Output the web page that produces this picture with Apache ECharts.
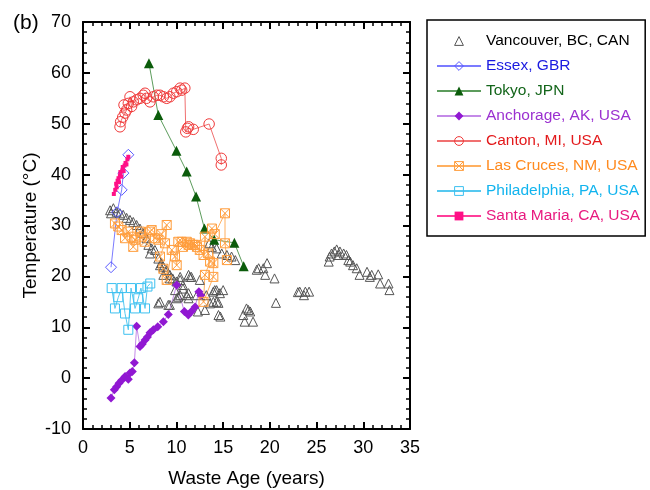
<!DOCTYPE html>
<html><head><meta charset="utf-8">
<script src="https://cdn.jsdelivr.net/npm/echarts@6/dist/echarts.min.js"></script>
<style>html,body{margin:0;padding:0;background:#fff}#c{width:650px;height:490px}</style>
</head><body><div id="c"></div>
<script>
// ---- data: [waste age (years), temperature (°C)] ----
const vancouver = [[2.9,33.0],[3.0,32.4],[3.25,33.4],[3.6,32.7],[3.96,32.4],[4.3,32.1],[4.67,31.5],[5.03,31.1],[5.38,30.7],[5.74,30.1],[6.1,29.4],[6.45,28.5],[6.8,27.5],[7.0,26.2],[7.35,25.5],[7.7,25.2],[7.17,24.5],[8.06,23.5],[8.4,22.6],[8.6,21.9],[8.96,21.2],[9.3,20.3],[9.6,19.6],[10.0,19.0],[10.4,19.3],[10.7,18.3],[11.3,20.3],[11.6,19.9],[11.45,19.9],[8.6,20.3],[8.24,22.2],[9.3,19.6],[10.4,19.9],[12.5,19.3],
  [8.24,15.0],[8.06,14.7],[9.3,14.4],[9.13,14.4],[10.2,16.0],[10.03,15.7],[11.3,16.7],[11.1,16.3],[12.2,16.3],[13.2,16.3],[13.95,15.0],[14.5,12.4],[12.3,13.1],[13.05,13.4],[13.6,14.7],[13.95,17.0],[14.3,17.3],[14.66,16.7],[14.5,14.8],[9.85,17.3],[10.4,16.3],[10.7,17.6],[11.3,15.7],[14.7,12.1],[14.1,17.3],[15.0,17.3],[14.3,15.0],
  [14.3,25.5],[14.85,24.5],[15.4,24.2],[15.9,23.9],[16.3,23.2],[13.5,26.5],[13.8,25.8],
  [17.15,12.4],[17.5,13.7],[17.9,13.1],[18.2,11.1],[17.3,11.1],[17.7,13.4],
  [18.6,21.3],[18.8,21.6],[19.3,21.6],[19.5,20.3],[19.7,22.6],[20.5,19.6],[20.65,14.8],[23.0,16.9],
  [23.2,17.0],[23.65,16.3],[23.8,17.0],[24.2,17.0],
  [26.3,22.9],[26.4,23.9],[26.6,24.5],[26.9,24.9],[27.15,25.3],[27.3,24.2],[27.5,24.9],[27.9,24.5],[28.2,24.2],[28.4,23.2],[28.6,22.9],[28.9,22.2],[29.3,21.6],[29.6,20.3],[30.4,20.9],[30.7,19.9],[30.9,20.3],[31.6,20.4],[31.8,18.6],[32.7,18.6],[32.8,17.3]];
const essex = [[3.0,21.8],[3.65,32.6],[4.14,37.0],[4.32,40.3],[4.85,43.9]];
const tokyo = [[7.06,61.9],[8.06,51.7],[10.0,44.7],[11.1,40.6],[12.1,35.7],[13.0,29.4],[14.05,27.2],[16.2,26.6],[17.2,22.0]];
const anchorage = [[3.0,-3.9],[3.35,-2.3],[3.6,-1.7],[3.85,-1.0],[4.14,-0.4],[4.5,0.3],[4.85,-0.2],[5.03,1.0],[5.28,1.3],[5.5,3.0],[5.74,10.2],[6.1,6.2],[6.35,6.7],[6.64,7.5],[6.9,8.1],[7.17,8.9],[7.53,9.5],[8.0,10.1],[8.6,11.1],[9.13,12.5],[10.03,18.3],[10.85,13.1],[11.27,12.4],[11.6,13.1],[12.0,14.0],[12.4,17.0],[12.6,16.3]];
const canton = [[3.96,49.4],[4.03,50.4],[4.25,51.3],[4.5,52.1],[4.67,52.7],[4.39,53.7],[4.85,54.0],[5.03,55.3],[5.2,53.4],[5.38,54.3],[5.74,54.7],[6.1,55.0],[6.45,55.6],[6.64,56.0],[6.8,55.0],[7.17,54.3],[7.53,55.3],[7.9,55.6],[8.24,55.6],[8.6,55.3],[8.96,55.0],[9.3,55.3],[9.67,56.0],[10.03,56.3],[10.4,57.0],[10.56,56.6],[10.9,57.0],[11.0,48.4],[11.17,49.1],[11.3,49.4],[11.8,48.9],[13.5,49.95],[14.8,43.2],[14.8,41.9]];
const lasCruces = [[3.42,30.4],[3.78,29.8],[4.14,29.1],[4.5,27.5],[4.85,28.8],[5.2,27.8],[5.38,25.8],[5.6,27.2],[6.1,28.8],[6.28,27.8],[6.6,26.8],[7.17,28.8],[7.35,29.1],[7.7,27.5],[8.06,27.2],[8.4,28.3],[8.96,30.1],[8.78,26.5],[8.24,23.9],[8.6,21.5],[8.96,19.3],[9.5,25.2],[9.85,23.9],[10.03,22.2],[10.2,26.8],[10.56,26.8],[10.7,25.8],[11.1,26.8],[11.3,26.2],[11.45,26.5],[11.8,26.2],[12.0,26.2],[12.2,25.8],[12.5,25.2],[12.9,24.2],[13.05,27.8],[13.4,24.5],[13.6,22.9],[13.05,20.3],[12.9,15.0],[13.95,19.9],[13.95,22.6],[13.8,29.4],[14.1,28.3],[15.2,32.4],[15.2,26.5],[15.4,23.2]];
const philadelphia = [[3.07,17.7],[3.42,13.7],[3.78,15.9],[4.14,17.7],[4.5,12.7],[4.85,9.5],[5.14,17.7],[5.57,13.7],[5.92,15.7],[6.2,17.7],[6.64,13.7],[6.9,18.0],[7.2,18.6]];
const santaMaria = [[3.3,36.2],[3.45,37.0],[3.55,38.2],[3.6,37.5],[3.7,38.8],[3.8,39.3],[3.85,38.5],[3.95,39.8],[4.0,40.5],[4.1,39.6],[4.2,40.8],[4.25,41.5],[4.35,40.7],[4.45,41.8],[4.55,42.3],[4.65,42.0],[4.75,43.0],[4.85,43.5]];
const seriesNames = ['Vancouver, BC, CAN','Essex, GBR','Tokyo, JPN','Anchorage, AK, USA','Canton, MI, USA','Las Cruces, NM, USA','Philadelphia, PA, USA','Santa Maria, CA, USA'];
const xTicks = {min:0, max:35, interval:5};
const yTicks = {min:-10, max:70, interval:10};

const F = '"Liberation Sans", Arial, sans-serif';
const chart = echarts.init(document.getElementById('c'));
const boxX = 'path://M0,0H10V10H0Z M0,0L10,10 M10,0L0,10';
function axisBase(show){
  return {
    type:'value',
    axisLine:{show:true,onZero:false,lineStyle:{color:'#000',width:2}},
    axisTick:{show:true,inside:true,length:7,lineStyle:{color:'#000',width:2}},
    minorTick:{show:true,splitNumber:5,length:4,lineStyle:{color:'#000',width:1.5}},
    splitLine:{show:false},
    axisLabel:{show:show,color:'#000',fontSize:18,fontFamily:F}
  };
}
const xb = Object.assign(axisBase(true), xTicks, {position:'bottom', name:'Waste Age (years)', nameLocation:'middle', nameGap:40, nameMoveOverlap:false, nameTextStyle:{color:'#000',fontSize:19,fontFamily:F}});
xb.axisLabel.margin = 10;
const xt = Object.assign(axisBase(false), xTicks, {position:'top'});
const yl = Object.assign(axisBase(true), yTicks, {position:'left', name:'Temperature (°C)', nameLocation:'middle', nameGap:43, nameMoveOverlap:false, nameRotate:90, nameTextStyle:{color:'#000',fontSize:19,fontFamily:F}});
yl.axisLabel.margin = 12;
const yr = Object.assign(axisBase(false), yTicks, {position:'right'});

function mk(name, data, opts){
  return Object.assign({
    name:name, type:'line', data:data, xAxisIndex:0, yAxisIndex:0,
    showSymbol:true, showAllSymbol:true, animation:false, silent:true
  }, opts);
}
const textColors = ['#000','#1a1ae0','#13651a','#9b30d0','#e31a1c','#ff8a1e','#12b4ee','#e8197f'];
const option = {
  animation:false,
  backgroundColor:'#fff',
  title:{text:'(b)', left:8, top:8, textStyle:{fontSize:21,fontWeight:'normal',color:'#000',fontFamily:F}},
  grid:{left:83, right:240, top:22, bottom:61, containLabel:false, outerBoundsMode:'none'},
  xAxis:[xb, xt],
  yAxis:[yl, yr],
  legend:{
    orient:'vertical', left:427, top:20,
    padding:[13,5,12,9], itemGap:9, itemWidth:44, itemHeight:11,
    backgroundColor:'#fff', borderColor:'#000', borderWidth:1.5, borderRadius:0,
    textStyle:{fontSize:15.5, fontFamily:F, lineHeight:16},
    data: seriesNames.map((n,i)=>({name:n, textStyle:{color:textColors[i]}, itemStyle:{borderWidth:1}}))
  },
  series:[
    mk(seriesNames[0], vancouver, {symbol:'triangle', symbolSize:9, lineStyle:{opacity:0,width:0}, itemStyle:{color:'rgba(0,0,0,0)', borderColor:'#555', borderWidth:1}}),
    mk(seriesNames[1], essex, {symbol:'diamond', symbolSize:11, lineStyle:{color:'#7b7bff',width:1}, itemStyle:{color:'rgba(255,255,255,0)', borderColor:'#5a5aff', borderWidth:1}}),
    mk(seriesNames[2], tokyo, {symbol:'triangle', symbolSize:10, lineStyle:{color:'#5c9c5c',width:1}, itemStyle:{color:'#0b5c0b', borderWidth:0}}),
    mk(seriesNames[3], anchorage, {symbol:'diamond', symbolSize:9, lineStyle:{color:'#c48ae8',width:1}, itemStyle:{color:'#9118d2', borderWidth:0}}),
    mk(seriesNames[4], canton, {symbol:'circle', symbolSize:10.5, lineStyle:{color:'#f07070',width:1}, itemStyle:{color:'rgba(255,255,255,0)', borderColor:'#f03a3a', borderWidth:1}}),
    mk(seriesNames[5], lasCruces, {symbol:boxX, symbolSize:9, lineStyle:{color:'#ffb060',width:1}, itemStyle:{color:'rgba(255,255,255,0)', borderColor:'#ff9d3c', borderWidth:1}}),
    mk(seriesNames[6], philadelphia, {symbol:'rect', symbolSize:9, lineStyle:{color:'#55c8f0',width:1}, itemStyle:{color:'rgba(255,255,255,0)', borderColor:'#3cc0f0', borderWidth:1}}),
    mk(seriesNames[7], santaMaria, {symbol:'rect', symbolSize:4, lineStyle:{color:'#ff3d9a',width:1.5}, itemStyle:{color:'#ff0f86', borderWidth:0}})
  ]
};
chart.setOption(option);
</script></body></html>
